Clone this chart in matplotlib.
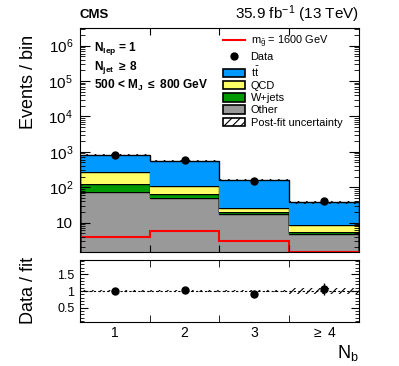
import numpy as np
import matplotlib.pyplot as plt
from matplotlib.patches import Patch
from matplotlib.lines import Line2D
from matplotlib.ticker import LogLocator, NullFormatter, MultipleLocator

# N_b bins and stacked post-fit yields
nb_labels = ['1', '2', '3', r'$\geq$ 4']
other = [72, 49, 17, 4.9]
wjets = [55, 15, 3.4, 0.5]
qcd = [143, 46, 4.6, 3.2]
ttbar = [550, 450, 138, 29]
signal = [3.8, 5.7, 3.1, 1.45]
data = [825, 585, 150, 40]
unc_rel = [0.03, 0.03, 0.03, 0.10]

edges = np.arange(0.5, 5.0, 1.0)
centers = np.arange(1, 5)

plt.rcParams['font.family'] = ['Liberation Sans', 'DejaVu Sans']
plt.rcParams['mathtext.fontset'] = 'custom'
plt.rcParams['mathtext.rm'] = 'Liberation Sans'
plt.rcParams['mathtext.it'] = 'Liberation Sans'
plt.rcParams['mathtext.bf'] = 'Liberation Sans:bold'
plt.rcParams['hatch.linewidth'] = 0.8

fig = plt.figure(figsize=(3.99, 3.66), dpi=100)
ax = fig.add_axes([0.2005, 0.3123, 0.6992, 0.6104])
rax = fig.add_axes([0.2005, 0.121, 0.6992, 0.1686])

colors = ['#999999', '#009900', '#ffff66', '#0099ff']
comps = [other, wjets, qcd, ttbar]
bottom = np.full(4, 1e-3)
for vals, c in zip(comps, colors):
    top = bottom + np.array(vals)
    ax.stairs(top, edges, baseline=bottom, fill=True, color=c)
    ax.stairs(top, edges, color='black', lw=1.0)
    bottom = top
total = bottom

# post-fit uncertainty on the total
unc = total * np.array(unc_rel)
ax.stairs(total + unc, edges, baseline=total - unc, fill=True, facecolor='none',
          edgecolor='black', hatch='////', lw=0)
ax.stairs(signal, edges, color='red', lw=1.5)
ax.errorbar(centers, data, yerr=np.sqrt(data), fmt='o', color='black', ms=5, lw=1)

ax.set_yscale('log')
ax.set_ylim(1.5, 3.1e6)
ax.set_xlim(0.5, 4.5)
ax.yaxis.set_minor_locator(LogLocator(base=10, subs=np.arange(2, 10), numticks=20))
ax.yaxis.set_minor_formatter(NullFormatter())
ax.set_yticks([10, 100, 1e3, 1e4, 1e5, 1e6])
ax.set_yticklabels(['10', r'10$^2$', r'10$^3$', r'10$^4$', r'10$^5$', r'10$^6$'])
ax.set_xticks(edges[1:-1])
ax.set_xticklabels([])
ax.tick_params(which='both', direction='in', top=True, right=True, labelsize=11, pad=5)
ax.tick_params(which='major', length=7)
ax.tick_params(which='minor', length=3.5)
ax.tick_params(axis='x', which='major', length=5)
ax.set_ylabel('Events / bin', fontsize=13, ha='right')
ax.yaxis.set_label_coords(-0.155, 0.97)

# ratio panel
ratio = np.array(data) / total
rerr = np.sqrt(data) / total
rax.stairs(1 + np.array(unc_rel), edges, baseline=1 - np.array(unc_rel), fill=True,
           facecolor='none', edgecolor='black', hatch='////', lw=0)
rax.axhline(1, color='black', ls='--', lw=0.8, dashes=(2, 2))
rax.errorbar(centers, ratio, yerr=rerr, fmt='o', color='black', ms=5, lw=1)
rax.set_xlim(0.5, 4.5)
rax.set_ylim(0.08, 1.93)
rax.set_xticks(centers)
rax.set_xticklabels(nb_labels)
rax.set_xticks(edges[1:-1], minor=True)
rax.yaxis.set_minor_locator(MultipleLocator(0.1))
rax.set_yticks([0.5, 1, 1.5])
rax.set_yticklabels(['0.5', '1', '1.5'])
rax.tick_params(which='both', direction='in', top=True, right=True)
rax.tick_params(axis='x', which='major', length=0, pad=3, labelsize=10)
rax.tick_params(axis='x', which='minor', length=5)
rax.tick_params(axis='y', which='major', length=6, labelsize=9, pad=4)
rax.tick_params(axis='y', which='minor', length=3)
rax.set_ylabel('Data / fit', fontsize=13)
rax.yaxis.set_label_coords(-0.155, 0.5)
rax.set_xlabel(r'N$_{\rm b}$', fontsize=13, ha='right', va='top')
rax.xaxis.set_label_coords(1.0, -0.34)

# headers and selection text
fig.text(0.2005, 0.95, 'CMS', fontsize=9.5, fontweight='bold', va='baseline')
fig.text(0.8997, 0.948, r'35.9 fb$^{-1}$ (13 TeV)', fontsize=11, ha='right', va='baseline')
ax.text(0.05, 0.90, r'$\mathbf{N_{lep}}$ = 1', transform=ax.transAxes,
        fontsize=8.6, fontweight='bold')
ax.text(0.05, 0.815, r'$\mathbf{N_{jet}}$ $\mathbf{\geq}$ 8', transform=ax.transAxes,
        fontsize=8.6, fontweight='bold')
ax.text(0.05, 0.73, r'500 < $\mathbf{M_J}$ $\mathbf{\leq}$ 800 GeV', transform=ax.transAxes,
        fontsize=8.6, fontweight='bold')

handles = [
    Line2D([], [], color='red', lw=1.5),
    Line2D([], [], color='black', marker='o', ls='none', ms=5),
    Patch(facecolor=colors[3], edgecolor='black', lw=1.2),
    Patch(facecolor=colors[2], edgecolor='black', lw=1.2),
    Patch(facecolor=colors[1], edgecolor='black', lw=1.2),
    Patch(facecolor=colors[0], edgecolor='black', lw=1.2),
    Patch(facecolor='white', edgecolor='black', hatch='////', lw=1.2),
]
labels = [r'm$_{\tilde{\rm g}}$ = 1600 GeV', 'Data', r't$\bar{\rm t}$', 'QCD',
          'W+jets', 'Other', 'Post-fit uncertainty']
ax.legend(handles, labels, loc='upper left', bbox_to_anchor=(0.513, 0.975),
          frameon=False, fontsize=7.9, handlelength=2.0, handleheight=0.8,
          labelspacing=0.2, borderaxespad=0, borderpad=0, handletextpad=0.5)

fig.savefig('out.png', dpi=100)
